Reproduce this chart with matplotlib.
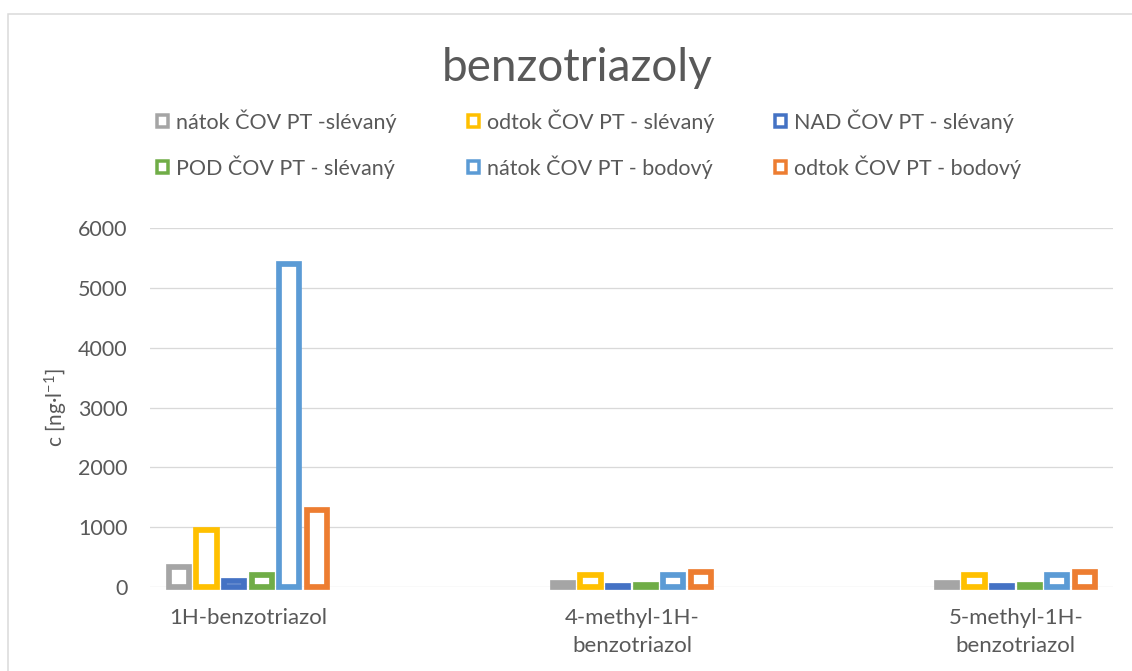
import matplotlib
matplotlib.use("Agg")
import matplotlib.pyplot as plt
from matplotlib.patches import Rectangle
import numpy as np

plt.rcParams['font.family'] = ['Lato', 'DejaVu Sans']
plt.rcParams['mathtext.default'] = 'regular'

categories = ["1H-benzotriazol", "4-methyl-1H-\nbenzotriazol", "5-methyl-1H-\nbenzotriazol"]
series_names = ["nátok ČOV PT -slévaný", "odtok ČOV PT - slévaný", "NAD ČOV PT - slévaný",
                "POD ČOV PT - slévaný", "nátok ČOV PT - bodový", "odtok ČOV PT - bodový"]
natok_slevany = [334, 70, 70]
odtok_slevany = [950, 205, 205]
nad_slevany = [100, 20, 20]
pod_slevany = [200, 40, 40]
natok_bodovy = [5390, 205, 205]
odtok_bodovy = [1290, 245, 245]
series_values = [natok_slevany, odtok_slevany, nad_slevany, pod_slevany, natok_bodovy, odtok_bodovy]
colors = ["#A5A5A5", "#FFC000", "#4472C4", "#70AD47", "#5B9BD5", "#ED7D31"]
yticks = [0, 1000, 2000, 3000, 4000, 5000, 6000]

W, H = 1132, 671
dpi = 100
fig = plt.figure(figsize=(W / dpi, H / dpi), dpi=dpi)
px = 72.0 / dpi  # points per pixel

# chart border
fig.add_artist(Rectangle((8 / W, -0.1), 1.2, 1 - 14 / H + 0.1, transform=fig.transFigure,
                         facecolor='white', edgecolor='#D9D9D9', linewidth=1.5 * px, zorder=-10))

ax = fig.add_axes([150 / W, 1 - 587 / H, (1113 - 150) / W, (587 - 228) / H])
ax.set_facecolor('none')

x = np.arange(len(categories))
slot = 27.6 / 384
bw = 20.3 / 384
n = len(series_values)
for k, (vals, col) in enumerate(zip(series_values, colors)):
    ax.bar(x + (k - (n - 1) / 2) * slot, vals, width=bw, facecolor='white', edgecolor=col,
           linewidth=5.7 * px, clip_on=False, zorder=3)

ax.set_xlim(-0.255, 2.253)
ax.set_ylim(0, 6000)
ax.set_yticks(yticks)
ax.set_yticklabels([str(v) for v in yticks])
ax.set_xticks(x)
ax.set_xticklabels(categories, linespacing=1.5)
ax.tick_params(axis='y', length=0, labelsize=15.5, labelcolor='#595959', pad=16)
ax.tick_params(axis='x', length=0, labelsize=16, labelcolor='#595959', pad=15)
ax.grid(axis='y', color='#D9D9D9', linewidth=1.3 * px, zorder=0)
for s in ['top', 'right', 'left', 'bottom']:
    ax.spines[s].set_visible(False)
ax.set_ylabel(r"c [ng·l$^{-1}$]", fontsize=15, color='#595959', labelpad=6)

fig.text(577 / W, 1 - 68 / H, "benzotriazoly", ha='center', va='center', fontsize=33, color='#595959')

# legend (manual grid)
col_x = [154, 465, 772]
row_y = [121, 167]
for k, (name, col) in enumerate(zip(series_names, colors)):
    r, c = divmod(k, 3)
    mx, my = col_x[c], row_y[r]
    fig.add_artist(Rectangle(((mx + 3) / W, 1 - (my + 6) / H), 11 / W, 12 / H,
                             transform=fig.transFigure, facecolor='white', edgecolor=col,
                             linewidth=3.5 * px))
    fig.text((mx + 22) / W, 1 - my / H, name, ha='left', va='center', fontsize=15.5, color='#595959')

fig.savefig("out.png", dpi=dpi)
